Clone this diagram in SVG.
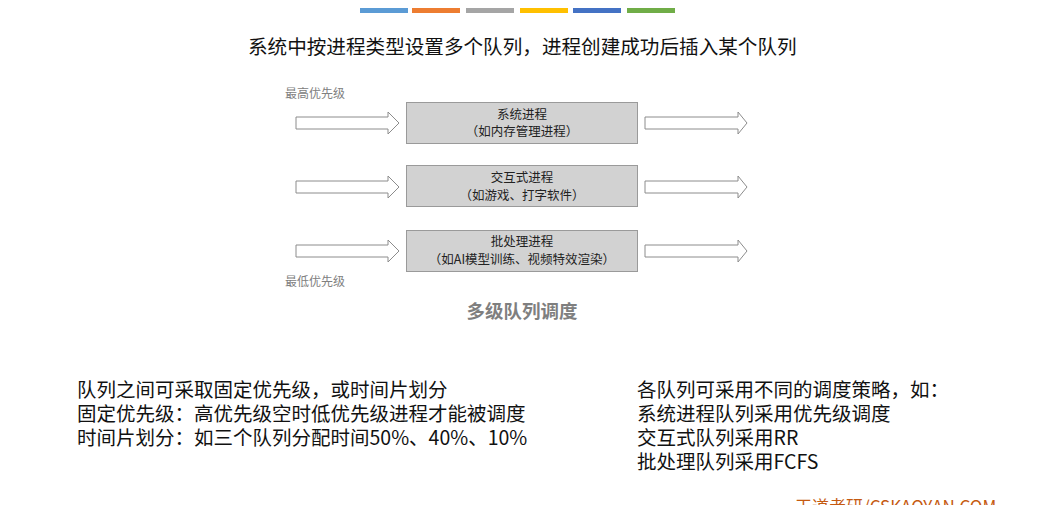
<svg xmlns="http://www.w3.org/2000/svg" width="1042" height="505" viewBox="0 0 1042 505">
<style>
.cjk{font-family:"Noto Sans CJK SC","Liberation Sans",sans-serif}
.box{fill:#d2d2d2;stroke:#9a9a9a;stroke-width:1}
.arr{fill:#fff;stroke:#8c8c8c;stroke-width:1}
.bt{font-size:12.5px;fill:#222;text-anchor:middle}
.lab{font-size:12px;fill:#808080}
.body{font-size:19.5px;fill:#111}
</style>
<rect width="1042" height="505" fill="#fff"/>
<g id="bars">
<rect x="360" y="8" width="48" height="5" fill="#5b9bd5"/>
<rect x="412" y="8" width="48" height="5" fill="#ed7d31"/>
<rect x="466" y="8" width="48" height="5" fill="#a5a5a5"/>
<rect x="520" y="8" width="48" height="5" fill="#ffc000"/>
<rect x="573" y="8" width="48" height="5" fill="#4472c4"/>
<rect x="627" y="8" width="48" height="5" fill="#70ad47"/>
</g>
<text class="cjk" x="248" y="54" font-size="19.6" fill="#111">系统中按进程类型设置多个队列，进程创建成功后插入某个队列</text>
<text class="cjk lab" x="285" y="98">最高优先级</text>
<text class="cjk lab" x="285" y="286">最低优先级</text>
<g id="connectors">
<path class="arr" d="M296,117H388V112L399,123L388,134V129H296Z"/>
<path class="arr" d="M645,117H738V112L747,123L738,134V129H645Z"/>
<path class="arr" d="M296,181H388V176L399,187L388,198V193H296Z"/>
<path class="arr" d="M645,181H738V176L747,187L738,198V193H645Z"/>
<path class="arr" d="M296,245H388V240L399,251L388,262V257H296Z"/>
<path class="arr" d="M645,245H738V240L747,251L738,262V257H645Z"/>
</g>
<g id="node1">
<rect class="box" x="406.5" y="102.5" width="231" height="41"/>
<text class="cjk bt" x="522" y="119">系统进程</text>
<text class="cjk bt" x="522" y="136">（如内存管理进程）</text>
</g>
<g id="node2">
<rect class="box" x="406.5" y="165.5" width="231" height="41"/>
<text class="cjk bt" x="522" y="182">交互式进程</text>
<text class="cjk bt" x="522" y="200">（如游戏、打字软件）</text>
</g>
<g id="node3">
<rect class="box" x="406.5" y="230.5" width="231" height="41"/>
<text class="cjk bt" x="522" y="246">批处理进程</text>
<text class="cjk bt" x="522" y="264">（如AI模型训练、视频特效渲染）</text>
</g>
<text class="cjk" x="522" y="318" font-size="18.5" fill="#7f7f7f" font-weight="bold" text-anchor="middle">多级队列调度</text>
<g class="cjk body">
<text x="77" y="397">队列之间可采取固定优先级，或时间片划分</text>
<text x="77" y="421">固定优先级：高优先级空时低优先级进程才能被调度</text>
<text x="77" y="445">时间片划分：如三个队列分配时间50%、40%、10%</text>
<text x="637" y="397">各队列可采用不同的调度策略，如：</text>
<text x="637" y="421">系统进程队列采用优先级调度</text>
<text x="637" y="445">交互式队列采用RR</text>
<text x="637" y="469">批处理队列采用FCFS</text>
</g>
<text class="cjk" x="795" y="513" font-size="17" fill="#c55a11">王道考研/CSKAOYAN.COM</text>
</svg>
